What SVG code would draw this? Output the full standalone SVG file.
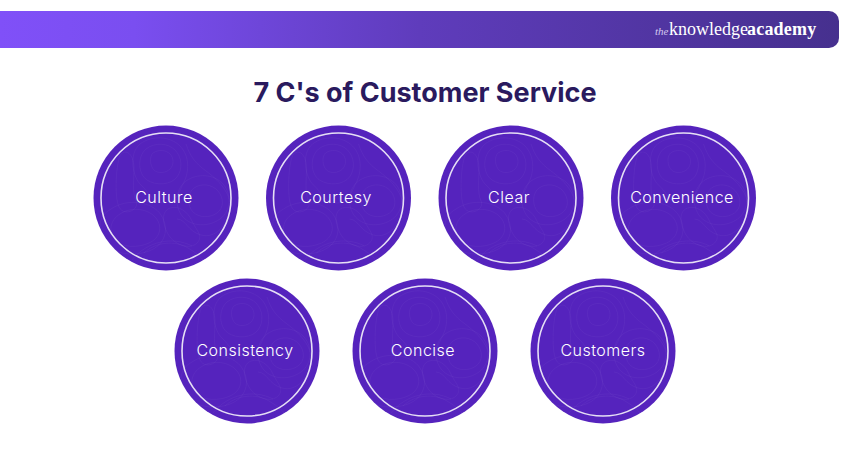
<svg xmlns="http://www.w3.org/2000/svg" width="850" height="450" viewBox="0 0 850 450">
<style>
.c{fill:#5523bd}
.r{fill:none;stroke:#e6dff5;stroke-width:1.6}
.t{font-family:"Inter","Liberation Sans",sans-serif;font-size:16px;font-weight:300;letter-spacing:.5px;fill:#fff;text-anchor:middle}
.h{font-family:"Inter","Liberation Sans",sans-serif;font-size:27px;font-weight:700;fill:#2a1a5e;text-anchor:middle}
.l{font-family:"Liberation Serif",serif;font-size:18px;fill:#fff}
.m{fill:none;stroke:#fff;stroke-opacity:.055;stroke-width:.7}
</style>
<defs>
<linearGradient id="bar" x1="0" x2="1" y1="0" y2="0">
<stop offset="0" stop-color="#8050f8"/><stop offset=".16" stop-color="#7a4ef0"/><stop offset=".5" stop-color="#5f3cbc"/><stop offset="1" stop-color="#46308e"/>
</linearGradient>
<g id="topo">
<path class="m" d="M-13-45c6-4 13-3 17 1s4 11 0 15-12 5-16 1-5-13-1-17z"/>
<path class="m" d="M-20-49c9-7 22-6 29 1s8 19 2 27-21 9-30 3-10-23-1-31z"/>
<path class="m" d="M-26-54c12-9 30-8 40 2s9 26 4 36-8 21-20 21-15-11-23-18-13-31-1-41z"/>
<path class="m" d="M-45-44c7-6 13 3 13 14s-2 24 2 33-12 16-17 6-3-46 2-53z"/>
<path class="m" d="M28-10c7-5 18-4 24 3s6 17-1 22-18 5-24-1-6-19 1-24z"/>
<path class="m" d="M20-17c11-8 28-7 37 3s8 27-3 35-28 8-37-2-8-28 3-36z"/>
<path class="m" d="M20-54c4 12 9 19 20 27s26 22 24 38-15 30-29 26-14-15-24-16"/>
<path class="m" d="M-46 16c12-8 29-5 36 4s4 20-7 25-27 5-34-3-5-20 5-26z"/>
<path class="m" d="M-55 11c16-11 41-8 50 6s4 30-12 36-37 3-44-9-8-25 6-33z"/>
<path class="m" d="M4 10c9-3 18 4 22 13s12 15 5 22-21 2-27-6-11-25 0-29z"/>
<path class="m" d="M-22 55c11-11 31-13 44-5s20 14 12 18M-34 62c15-19 41-24 60-14"/>
</g>
<g id="disc"><circle class="c" r="72.5"/><use href="#topo"/><circle class="r" r="65"/></g>
</defs>
<g id="header">
<path d="M0 11H829a10 10 0 0 1 10 10V38a10 10 0 0 1-10 10H0z" fill="url(#bar)"/>
<text class="l" y="35"><tspan x="655" font-style="italic" font-size="11" fill="#d4c8f0">the</tspan><tspan x="669">knowledge</tspan><tspan x="747" font-weight="700" letter-spacing=".2">academy</tspan></text>
</g>
<text id="title" class="h" x="425" y="102">7 C's of Customer Service</text>
<g id="connectors"/>
<g id="n1"><use href="#disc" x="166" y="198"/><text class="t" x="164" y="203">Culture</text></g>
<g id="n2"><use href="#disc" x="338.5" y="198"/><text class="t" x="336" y="203">Courtesy</text></g>
<g id="n3"><use href="#disc" x="511" y="198"/><text class="t" x="509" y="203">Clear</text></g>
<g id="n4"><use href="#disc" x="683.5" y="198"/><text class="t" x="682" y="203">Convenience</text></g>
<g id="n5"><use href="#disc" x="247" y="351"/><text class="t" x="245" y="356">Consistency</text></g>
<g id="n6"><use href="#disc" x="425" y="351"/><text class="t" x="423" y="356">Concise</text></g>
<g id="n7"><use href="#disc" x="603" y="351"/><text class="t" x="603" y="356">Customers</text></g>
</svg>
